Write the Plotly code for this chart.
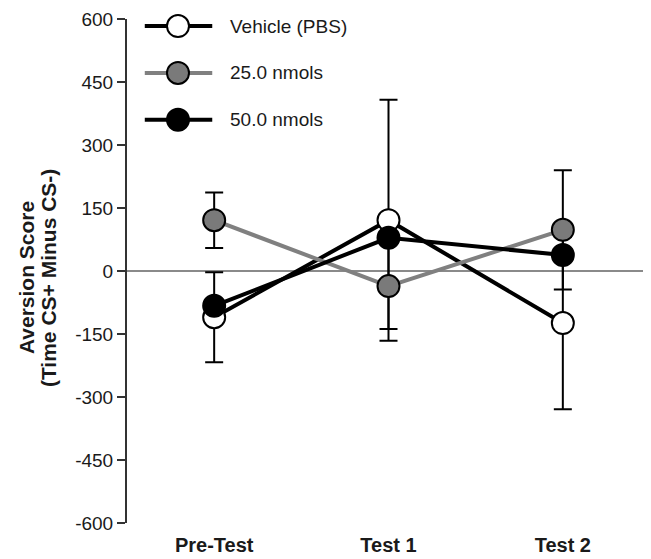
import plotly.graph_objects as go

categories = ["Pre-Test", "Test 1", "Test 2"]
series_names = ["Vehicle (PBS)", "25.0 nmols", "50.0 nmols"]
vehicle = [-110, 121, -124]
vehicle_err = [107, 287, 205]
nmol25 = [121, -36, 98]
nmol25_err = [66, 102, 142]
nmol50 = [-83, 79, 38]
y_ticks = [-600, -450, -300, -150, 0, 150, 300, 450, 600]
y_tick_text = ["-600", "-450", "-300", "-150", "0", "150", "300", "450", "600"]

FONT = "Arial, Liberation Sans, Helvetica, sans-serif"
TXT = "#1a1a1a"

styles = [
    dict(line="#000000", fill="#ffffff"),
    dict(line="#808080", fill="#7a7a7a"),
    dict(line="#000000", fill="#000000"),
]
data = [(vehicle, vehicle_err), (nmol25, nmol25_err), (nmol50, None)]

fig = go.Figure()
for name, (vals, err), st in zip(series_names, data, styles):
    fig.add_trace(go.Scatter(
        x=categories, y=vals, name=name, mode="lines+markers",
        line=dict(color=st["line"], width=4),
        marker=dict(size=22, color=st["fill"], line=dict(color="#000000", width=2)),
        error_y=dict(type="data", array=err, visible=err is not None,
                     color="#000000", thickness=2, width=9),
        showlegend=False,
    ))

# manual legend
row_y = [0.986, 0.893, 0.800]
for name, st, yy in zip(series_names, styles, row_y):
    fig.add_shape(type="line", xref="paper", yref="paper", x0=0.034, x1=0.163, y0=yy, y1=yy,
                  line=dict(color=st["line"], width=4))
    fig.add_shape(type="circle", xref="paper", yref="paper", xsizemode="pixel", ysizemode="pixel",
                  xanchor=0.0975, yanchor=yy, x0=-11, x1=11, y0=-11, y1=11,
                  fillcolor=st["fill"], line=dict(color="#000000", width=2))
    fig.add_annotation(x=0.193, y=yy, xref="paper", yref="paper", text=name, showarrow=False,
                       xanchor="left", yanchor="middle", font=dict(family=FONT, size=19, color=TXT))

# y-axis title (two lines)
for txt, xp in [("<b>Aversion Score</b>", -0.193), ("<b>(Time CS+ Minus CS-)</b>", -0.151)]:
    fig.add_annotation(x=xp, y=0.486, xref="paper", yref="paper", text=txt, showarrow=False,
                       textangle=-90, xanchor="center", yanchor="middle",
                       font=dict(family=FONT, size=21, color=TXT))

# small end tick of the zero line
fig.add_shape(type="line", xref="paper", yref="y", x0=0.999, x1=0.999, y0=0, y1=-16,
              line=dict(color="#8a8a8a", width=1.5))

fig.update_layout(
    width=643, height=551,
    margin=dict(l=119, r=1, t=9, b=36),
    plot_bgcolor="white", paper_bgcolor="white",
    font=dict(family=FONT, color=TXT),
    xaxis=dict(range=[-0.5, 2.5], showgrid=False, showline=False, zeroline=False,
               ticks="", tickfont=dict(family=FONT, size=20, color=TXT, weight="bold"),
               ticklabelstandoff=8),
    yaxis=dict(range=[-600, 600], tickvals=y_ticks, ticktext=y_tick_text, showgrid=False,
               showline=True, linecolor="#333333", linewidth=2,
               ticks="outside", ticklen=8, tickwidth=1.5, tickcolor="#333333",
               tickfont=dict(family=FONT, size=19, color=TXT),
               ticklabeloverflow="allow",
               zeroline=True, zerolinecolor="#8a8a8a", zerolinewidth=1.5),
)

fig.write_html("out.html")
